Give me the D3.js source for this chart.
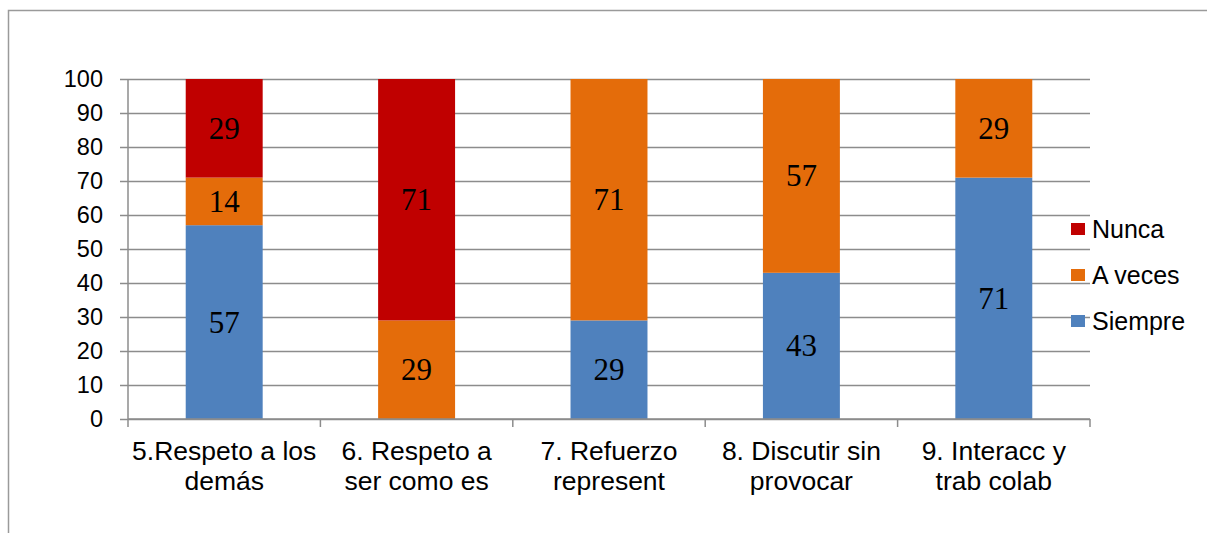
<!DOCTYPE html>
<html>
<head>
<meta charset="utf-8">
<script src="https://cdn.jsdelivr.net/npm/d3@7"></script>
<style>
  html, body { margin: 0; padding: 0; background: #fff; }
  svg { display: block; }
</style>
</head>
<body>
<svg id="chart" width="1207" height="533"></svg>
<script>
// Category labels (each split into two lines)
const categories = [
  ["5.Respeto a los", "demás"],
  ["6. Respeto a", "ser como es"],
  ["7. Refuerzo", "represent"],
  ["8. Discutir sin", "provocar"],
  ["9. Interacc y", "trab colab"]
];
const seriesNames = ["Siempre", "A veces", "Nunca"];
const siempre = [57, 0, 29, 43, 71];
const aVeces  = [14, 29, 71, 57, 29];
const nunca   = [29, 71, 0, 0, 0];
const yTicks  = [0, 10, 20, 30, 40, 50, 60, 70, 80, 90, 100];
const colors  = ["#4F81BD", "#E46C0A", "#C00000"];

const svg = d3.select("#chart");

// Chart frame
svg.append("rect")
  .attr("x", 8.5).attr("y", 10.5)
  .attr("width", 1300).attr("height", 600)
  .attr("fill", "none").attr("stroke", "#9a9a9a").attr("stroke-width", 1.5);

const plotL = 128, plotR = 1090, plotT = 79, plotB = 419;
const x = d3.scaleBand().domain(d3.range(categories.length)).range([plotL, plotR]).padding(0);
const y = d3.scaleLinear().domain([0, 100]).range([plotB, plotT]);

// Gridlines with y ticks
const yAxis = svg.append("g")
  .attr("transform", `translate(${plotL},0)`)
  .call(d3.axisLeft(y).tickValues(yTicks).tickSize(8).tickPadding(17).tickFormat(d3.format("d")));
yAxis.select(".domain").remove();
yAxis.selectAll(".tick line")
  .attr("x1", -8).attr("x2", plotR - plotL)
  .attr("stroke", "#8c8c8c").attr("stroke-width", 1.5);
yAxis.selectAll(".tick text")
  .attr("font-family", "'Liberation Sans', Arial, sans-serif")
  .attr("font-size", 23.5).attr("fill", "#000");

// Stacked bars
const rows = categories.map((c, i) => ({ i, "Siempre": siempre[i], "A veces": aVeces[i], "Nunca": nunca[i] }));
const stack = d3.stack().keys(seriesNames)(rows);
const barW = x.bandwidth() * 0.4;

const layers = svg.append("g").selectAll("g").data(stack).join("g")
  .attr("fill", (d, k) => colors[k]);
layers.selectAll("rect").data(d => d).join("rect")
  .attr("x", d => x(d.data.i) + (x.bandwidth() - barW) / 2)
  .attr("width", barW)
  .attr("y", d => y(d[1]))
  .attr("height", d => y(d[0]) - y(d[1]));

// Value labels inside segments
layers.selectAll("text").data(d => d.filter(s => s[1] - s[0] > 0)).join("text")
  .attr("x", d => x(d.data.i) + x.bandwidth() / 2)
  .attr("y", d => (y(d[0]) + y(d[1])) / 2 + 10.5)
  .attr("text-anchor", "middle")
  .attr("font-family", "'Liberation Serif', 'Times New Roman', serif")
  .attr("font-size", 31).attr("fill", "#000")
  .text(d => d[1] - d[0]);

// Category axis: baseline, vertical axis line and boundary ticks
const axisStroke = "#8c8c8c";
svg.append("line")
  .attr("x1", plotL).attr("x2", plotR).attr("y1", plotB).attr("y2", plotB)
  .attr("stroke", axisStroke).attr("stroke-width", 1.5);
svg.append("line")
  .attr("x1", plotL).attr("x2", plotL).attr("y1", plotT).attr("y2", plotB)
  .attr("stroke", axisStroke).attr("stroke-width", 1.5);
const bounds = x.domain().map(i => x(i)).concat([plotR]);
svg.append("g").selectAll("line").data(bounds).join("line")
  .attr("x1", d => d).attr("x2", d => d)
  .attr("y1", plotB).attr("y2", plotB + 8)
  .attr("stroke", axisStroke).attr("stroke-width", 1.5);

const catText = svg.append("g").selectAll("text").data(categories).join("text")
  .attr("text-anchor", "middle")
  .attr("font-family", "'Liberation Sans', Arial, sans-serif")
  .attr("font-size", 26.5).attr("fill", "#000");
catText.selectAll("tspan").data((d, i) => d.map(t => ({ t, i }))).join("tspan")
  .attr("x", d => x(d.i) + x.bandwidth() / 2)
  .attr("y", (d, j) => plotB + 41 + j * 30)
  .text(d => d.t);

// Legend
const legend = svg.append("g");
const legendOrder = [2, 1, 0];
legendOrder.forEach((k, r) => {
  const cy = 229 + r * 46;
  legend.append("rect")
    .attr("x", 1071).attr("y", cy - 6).attr("width", 14).attr("height", 12)
    .attr("fill", colors[k]);
  legend.append("text")
    .attr("x", 1092).attr("y", cy + 8.5)
    .attr("font-family", "'Liberation Sans', Arial, sans-serif")
    .attr("font-size", 25).attr("fill", "#000")
    .text(seriesNames[k]);
});
</script>
</body>
</html>
